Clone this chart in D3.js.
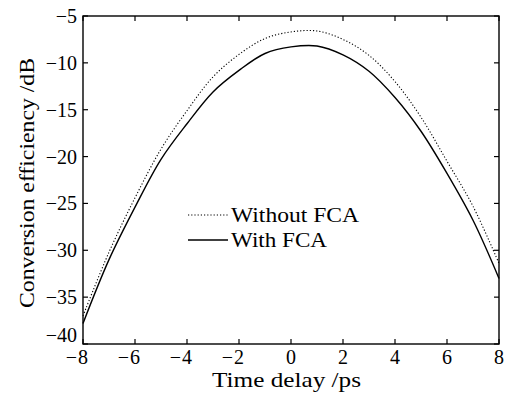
<!DOCTYPE html>
<html>
<head>
<meta charset="utf-8">
<script src="https://cdn.jsdelivr.net/npm/d3@7"></script>
<style>
	body { margin: 0; background: #fff; }
</style>
</head>
<body>
<svg id="chart" width="507" height="394" font-family="'Liberation Serif', 'Times New Roman', 'DejaVu Serif', serif"></svg>
<script>
// time delay in ps
const delays = [-8, -7, -6, -5, -4, -3, -2, -1, 0, 1, 2, 3, 4, 5, 6, 7, 8];
// conversion efficiency in dB
const withoutFCA = [-37.0, -30.2, -24.4, -19.2, -15.1, -11.5, -9.1, -7.4, -6.7, -6.6, -7.5, -9.2, -12.0, -15.8, -20.5, -25.3, -31.4];
const withFCA = [-37.8, -31.0, -25.4, -20.3, -16.5, -13.1, -10.8, -9.0, -8.3, -8.2, -9.15, -10.9, -13.7, -17.3, -21.8, -26.8, -33.0];
const xTicks = [-8, -6, -4, -2, 0, 2, 4, 6, 8];
const yTicks = [-40, -35, -30, -25, -20, -15, -10, -5];

const svg = d3.select("#chart");
const plotLeft = 83, plotRight = 499, plotTop = 16, plotBottom = 344;

const x = d3.scaleLinear().domain([-8, 8]).range([plotLeft, plotRight]);
const y = d3.scaleLinear().domain([-40, -5]).range([plotBottom, plotTop]);

// frame
svg.append("rect")
	.attr("x", plotLeft).attr("y", plotTop)
	.attr("width", plotRight - plotLeft).attr("height", plotBottom - plotTop)
	.attr("fill", "none").attr("stroke", "#000").attr("stroke-width", 1.4);

// inward ticks on all four sides
const tk = 5;
xTicks.forEach(v => {
	svg.append("line").attr("x1", x(v)).attr("x2", x(v)).attr("y1", plotBottom).attr("y2", plotBottom - tk)
		.attr("stroke", "#000").attr("stroke-width", 1.2);
	svg.append("line").attr("x1", x(v)).attr("x2", x(v)).attr("y1", plotTop).attr("y2", plotTop + tk)
		.attr("stroke", "#000").attr("stroke-width", 1.2);
});
yTicks.forEach(v => {
	svg.append("line").attr("x1", plotLeft).attr("x2", plotLeft + tk).attr("y1", y(v)).attr("y2", y(v))
		.attr("stroke", "#000").attr("stroke-width", 1.2);
	svg.append("line").attr("x1", plotRight).attr("x2", plotRight - tk).attr("y1", y(v)).attr("y2", y(v))
		.attr("stroke", "#000").attr("stroke-width", 1.2);
});

// x tick labels: digits centred on the tick, minus hangs to the left
xTicks.forEach(v => {
	let t = svg.append("text")
		.attr("x", x(v)).attr("y", 364)
		.attr("text-anchor", "middle")
		.attr("font-size", 20)
		.text(Math.abs(v));
	if (v < 0) {
		let w = t.node().getComputedTextLength();
		svg.append("text")
			.attr("x", x(v) - w / 2 - 1).attr("y", 364)
			.attr("text-anchor", "end")
			.attr("font-size", 20)
			.text("\u2212");
	}
});

// y tick labels (bottom one nudged up, clear of the x labels)
yTicks.forEach(v => {
	svg.append("text")
		.attr("x", 77).attr("y", y(v) + (v === -40 ? -2 : 7))
		.attr("text-anchor", "end")
		.attr("font-size", 20)
		.text("\u2212" + Math.abs(v));
});

// axis titles
svg.append("text")
	.attr("x", 212).attr("y", 387)
	.attr("font-size", 21)
	.attr("textLength", 149).attr("lengthAdjust", "spacingAndGlyphs")
	.text("Time delay /ps");

svg.append("text")
	.attr("transform", "translate(34,308) rotate(-90)")
	.attr("font-size", 22)
	.attr("textLength", 250).attr("lengthAdjust", "spacingAndGlyphs")
	.text("Conversion efficiency /dB");

// curves
const line = d3.line()
	.curve(d3.curveCatmullRom)
	.x((d, i) => x(delays[i]))
	.y(d => y(d));

svg.append("path")
	.datum(withoutFCA)
	.attr("d", line)
	.attr("fill", "none").attr("stroke", "#000")
	.attr("stroke-width", 1.1).attr("stroke-dasharray", "1.2,2");

svg.append("path")
	.datum(withFCA)
	.attr("d", line)
	.attr("fill", "none").attr("stroke", "#000")
	.attr("stroke-width", 1.4);

// legend
const legend = [
	{ label: "Without FCA", dash: "1.2,2", w: 1.1, len: 128 },
	{ label: "With FCA", dash: null, w: 1.4, len: 96 }
];
legend.forEach((d, i) => {
	let ly = 215 + i * 25;
	svg.append("line")
		.attr("x1", 188).attr("x2", 228).attr("y1", ly).attr("y2", ly)
		.attr("stroke", "#000").attr("stroke-width", d.w)
		.attr("stroke-dasharray", d.dash);
	svg.append("text")
		.attr("x", 231).attr("y", ly + 7)
		.attr("font-size", 22)
		.attr("textLength", d.len).attr("lengthAdjust", "spacingAndGlyphs")
		.text(d.label);
});
</script>
</body>
</html>
